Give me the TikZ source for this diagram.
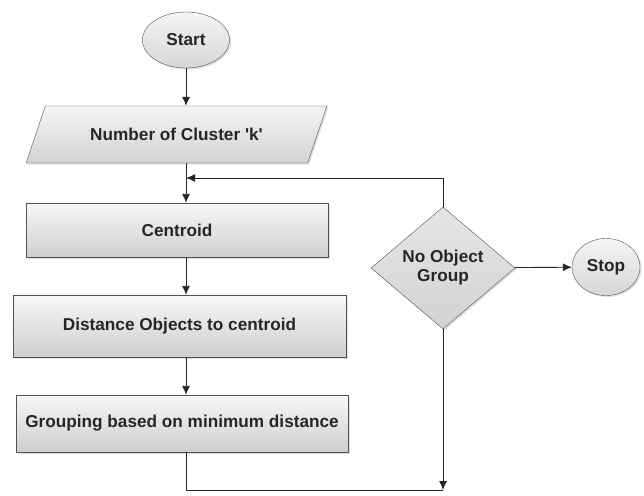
\documentclass[tikz,border=0pt]{standalone}
\usepackage{fontspec}
\setmainfont{Liberation Sans}
\usetikzlibrary{shapes.geometric,arrows.meta,shadows}

\begin{document}
\begin{tikzpicture}[x=1pt,y=-1pt,
  every node/.style={font=\fontsize{17.2}{19}\selectfont\bfseries, text=black!85, align=center, inner sep=0pt},
  shade/.style={drop shadow={opacity=0.25, shadow xshift=1.5pt, shadow yshift=-1.5pt}},
  box/.style={shape=rectangle, draw=gray!65!black, top color=gray!6, bottom color=gray!38, shade},
  terminal/.style={shape=ellipse, draw=gray!65!black, top color=gray!8, bottom color=gray!32, shade},
  inbox/.style={shape=trapezium, trapezium left angle=45, trapezium right angle=135,
    trapezium stretches=true, draw=gray!65!black, top color=gray!8, bottom color=gray!35, shade},
  choice/.style={shape=diamond, draw=gray!65!black, top color=gray!20, bottom color=gray!35, shade},
  flow/.style={draw=black!85, line width=0.9pt, -{Latex[length=9pt,width=8pt]}},
  link/.style={draw=black!85, line width=0.9pt}]
% Parameters
\def\flowX{186}
\def\decisionX{443}
\def\loopY{178}
\def\bottomY{490}

\useasboundingbox (0,0) rectangle (644,495);

% Nodes
\node[terminal, minimum width=87pt, minimum height=56pt] (start) at (\flowX,40) {Start};
\node[inbox, minimum width=301pt, minimum height=57pt] (count) at (176.5,134.5) {Number of Cluster \textquotesingle k\textquotesingle};
\node[box, minimum width=302pt, minimum height=54pt] (centroid) at (177,230) {Centroid};
\node[box, minimum width=333pt, minimum height=62pt] (distance) at (179.5,326) {Distance Objects to centroid};
\node[box, minimum width=332pt, minimum height=57pt] (grouping) at (182,423.5) {Grouping based on minimum distance};
\node[choice, minimum width=144pt, minimum height=122pt] (decision) at (\decisionX,268) {No Object\\Group};
\node[terminal, minimum width=68pt, minimum height=57pt] (stop) at (606,267) {Stop};

\coordinate (merge) at (\flowX,\loopY);
\coordinate (corner) at (\decisionX,\bottomY);

% Arrows
\draw[flow] (start) -- (start |- count.north);
\draw[flow] (count.south -| start) -- (centroid.north -| start);
\draw[flow] (centroid.south -| start) -- (distance.north -| start);
\draw[flow] (distance.south -| start) -- (grouping.north -| start);
\draw[link] (grouping.south -| start) |- (corner);
\draw[flow] (decision) -- (corner);
\draw[flow] (decision) |- (merge);
\draw[flow] (decision) -- (stop);

\end{tikzpicture}
\end{document}
